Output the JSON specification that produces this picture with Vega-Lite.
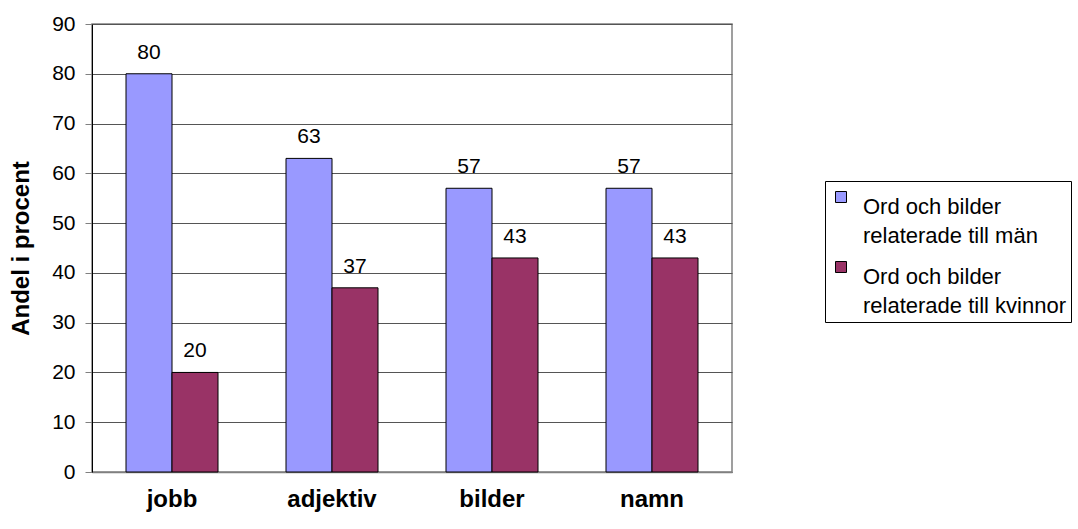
{
  "$schema": "https://vega.github.io/schema/vega-lite/v6.json",
  "width": 640,
  "height": 448,
  "autosize": {"type": "none"},
  "padding": {"left": 92, "top": 24, "right": 346, "bottom": 57},
  "background": "white",
  "config": {
    "font": "Liberation Sans",
    "view": {"stroke": "#808080", "strokeWidth": 1.5},
    "style": {"guide-label": {"lineHeight": 29}}
  },
  "data": {
    "values": [
      {"kategori": "jobb", "serie": "Ord och bilder relaterade till män", "andel": 80},
      {"kategori": "jobb", "serie": "Ord och bilder relaterade till kvinnor", "andel": 20},
      {"kategori": "adjektiv", "serie": "Ord och bilder relaterade till män", "andel": 63},
      {"kategori": "adjektiv", "serie": "Ord och bilder relaterade till kvinnor", "andel": 37},
      {"kategori": "bilder", "serie": "Ord och bilder relaterade till män", "andel": 57},
      {"kategori": "bilder", "serie": "Ord och bilder relaterade till kvinnor", "andel": 43},
      {"kategori": "namn", "serie": "Ord och bilder relaterade till män", "andel": 57},
      {"kategori": "namn", "serie": "Ord och bilder relaterade till kvinnor", "andel": 43}
    ]
  },
  "encoding": {
    "x": {
      "field": "kategori",
      "type": "nominal",
      "sort": ["jobb", "adjektiv", "bilder", "namn"],
      "scale": {"paddingInner": 0.425, "paddingOuter": 0.2125},
      "axis": {
        "title": null,
        "labelAngle": 0,
        "labelFont": "Liberation Sans",
        "labelFontSize": 24,
        "labelFontWeight": "bold",
        "labelColor": "black",
        "labelPadding": 15,
        "labelDx": -7,
        "ticks": false,
        "domainColor": "#808080",
        "domainWidth": 1.5
      }
    },
    "xOffset": {
      "field": "serie",
      "type": "nominal",
      "sort": ["Ord och bilder relaterade till män", "Ord och bilder relaterade till kvinnor"]
    },
    "y": {
      "field": "andel",
      "type": "quantitative",
      "scale": {"domain": [0, 90], "nice": false},
      "axis": {
        "title": "Andel i procent",
        "titleFont": "Liberation Sans",
        "titleFontSize": 24,
        "titleFontWeight": "bold",
        "titleColor": "black",
        "titlePadding": 18,
        "values": [0, 10, 20, 30, 40, 50, 60, 70, 80, 90],
        "labelFontSize": 21,
        "labelColor": "black",
        "labelPadding": 10,
        "tickSize": 7,
        "tickColor": "#808080",
        "domainColor": "black",
        "gridColor": "#555555",
        "gridWidth": 1.2
      }
    }
  },
  "layer": [
    {
      "mark": {"type": "bar", "stroke": "black", "strokeWidth": 1},
      "encoding": {
        "color": {
          "field": "serie",
          "type": "nominal",
          "sort": ["Ord och bilder relaterade till män", "Ord och bilder relaterade till kvinnor"],
          "scale": {
            "domain": ["Ord och bilder relaterade till män", "Ord och bilder relaterade till kvinnor"],
            "range": ["#9999FF", "#993366"]
          },
          "legend": {
            "title": null,
            "orient": "none",
            "legendX": 733,
            "legendY": 157,
            "direction": "vertical",
            "symbolType": "square",
            "symbolSize": 121,
            "symbolStrokeColor": "black",
            "symbolStrokeWidth": 1,
            "symbolOpacity": 1,
            "labelFontSize": 22,
            "labelColor": "black",
            "labelLimit": 400,
            "labelExpr": "split(replace(datum.label, 'bilder ', 'bilder|'), '|')",
            "labelBaseline": "top",
            "labelOffset": 11,
            "strokeColor": "black",
            "padding": 5,
            "rowPadding": 9,
            "fillColor": "white"
          }
        }
      }
    },
    {
      "mark": {"type": "text", "dy": -21, "fontSize": 21, "color": "black", "font": "Liberation Sans"},
      "encoding": {
        "text": {"field": "andel", "type": "quantitative"}
      }
    }
  ]
}
